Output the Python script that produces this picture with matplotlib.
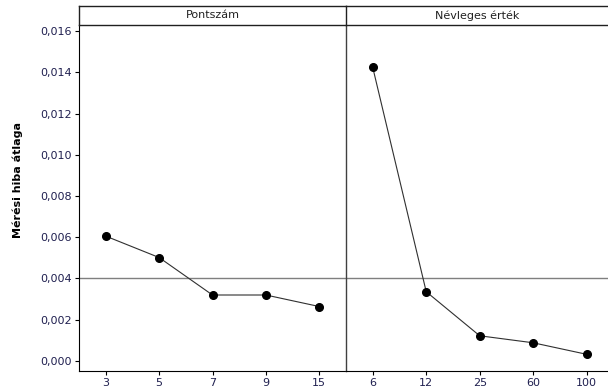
import matplotlib.pyplot as plt

# Main effects data (Mérési hiba átlaga)
pont_labels = ["3", "5", "7", "9", "15"]
pont_means = [0.00605, 0.00501, 0.00319, 0.00319, 0.00263]

nevl_labels = ["6", "12", "25", "60", "100"]
nevl_means = [0.01424, 0.00335, 0.00121, 0.00087, 0.00031]

panel_titles = ["Pontszám", "Névleges érték"]
grand_mean = 0.0040

y_ticks = [0.000, 0.002, 0.004, 0.006, 0.008, 0.010, 0.012, 0.014, 0.016]
y_tick_labels = [f"{v:.3f}".replace(".", ",") for v in y_ticks]

W, H = 608, 391
fig = plt.figure(figsize=(W / 100, H / 100), dpi=100)

tick_color = "#202050"
x_left, x_mid, x_right = 79, 346, 613.4
y_top, y_strip, y_bot = 6, 25, 371

def fx(px):
    return px / W

def fy(py):
    return 1 - py / H

panels = [(pont_labels, pont_means, x_left, x_mid), (nevl_labels, nevl_means, x_mid, x_right)]

for i, (labels, means, xa, xb) in enumerate(panels):
    ax = fig.add_axes([fx(xa), fy(y_bot), fx(xb - xa), fy(y_strip) - fy(y_bot)])
    pos = list(range(len(labels)))
    ax.axhline(grand_mean, color="#7f7f7f", linewidth=1.0, zorder=1)
    ax.plot(pos, means, color="#303030", linewidth=0.8, marker="o",
            markersize=5.5, markerfacecolor="black", markeredgecolor="black", zorder=3)
    ax.set_xlim(-0.5, len(labels) - 0.5)
    ax.set_ylim(-0.0005, 0.0163)
    ax.set_xticks(pos)
    ax.set_xticklabels(labels, fontsize=8, color=tick_color)
    ax.tick_params(axis="x", length=3, width=0.8, pad=2)
    ax.spines["top"].set_visible(False)
    ax.spines["right"].set_visible(False)
    if i == 0:
        ax.set_yticks(y_ticks)
        ax.set_yticklabels(y_tick_labels, fontsize=8, color=tick_color)
        ax.tick_params(axis="y", length=3, width=0.8, pad=2)
        ax.set_ylabel("Mérési hiba átlaga", fontsize=8, fontweight="bold")
        ax.yaxis.set_label_coords(-0.21, 0.552)
        ax.spines["left"].set_color("black")
    else:
        ax.set_yticks([])
        ax.spines["left"].set_color("#404040")
        ax.spines["left"].set_linewidth(1.0)

    # strip header
    sax = fig.add_axes([fx(xa), fy(y_strip), fx(xb - xa), fy(y_top) - fy(y_strip)])
    sax.set_xticks([])
    sax.set_yticks([])
    sax.spines["right"].set_visible(False)
    for sp in ["top", "bottom", "left"]:
        sax.spines[sp].set_color("#202020")
        sax.spines[sp].set_linewidth(1.0)
    cx = (x_left + x_mid) / 2 if i == 0 else (x_mid + 608 + 1) / 2
    sax.text(0.5 if i == 0 else (cx - xa) / (xb - xa), 0.5, panel_titles[i],
             transform=sax.transAxes, ha="center", va="center", fontsize=8, color="#202020")

plt.savefig("out.png", dpi=100)
